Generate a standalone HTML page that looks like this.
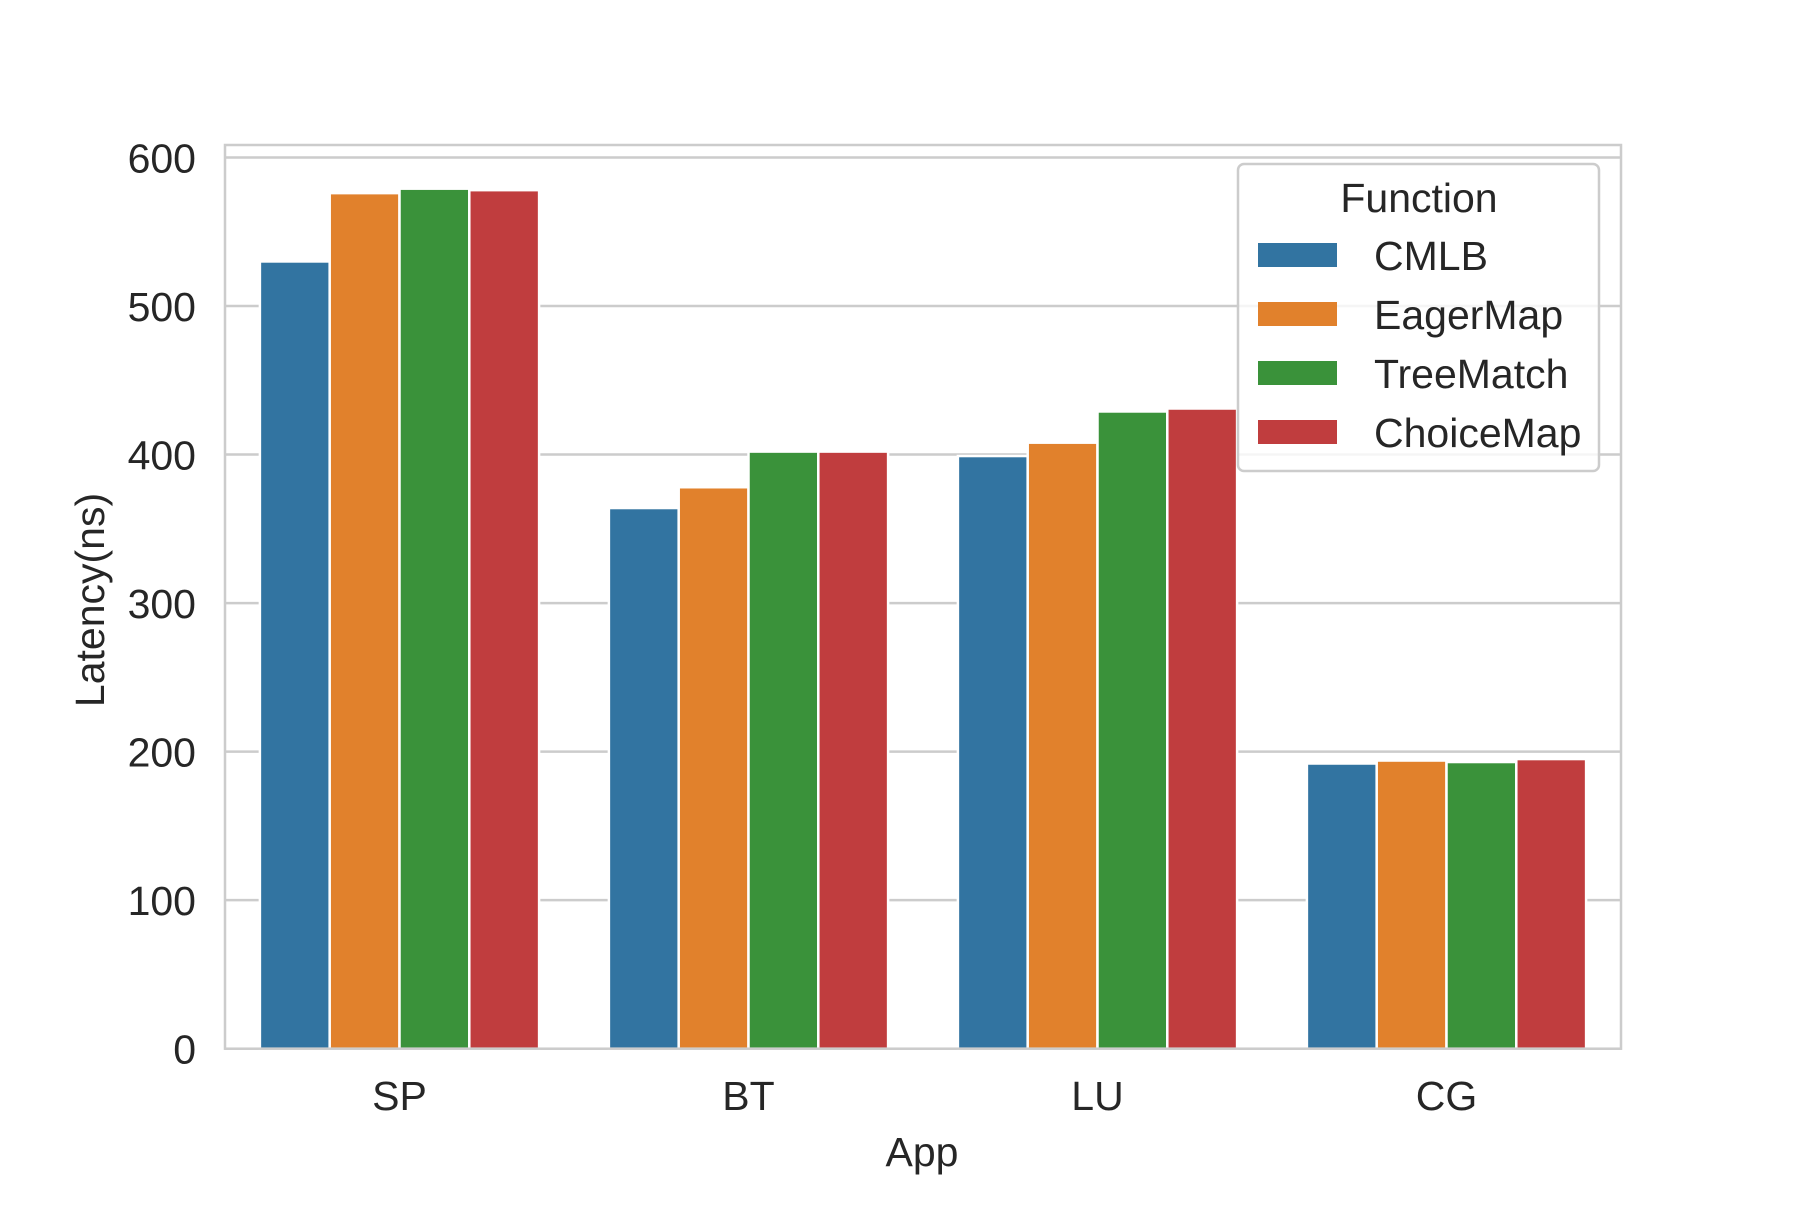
<!DOCTYPE html>
<html><head><meta charset="utf-8"><style>
html,body{margin:0;padding:0;background:#fff;}
svg text{font-family:"Liberation Sans",Arial,sans-serif;fill:#262626;}
</style></head><body>
<svg id="chart" width="1800" height="1200" viewBox="0 0 1800 1200" xmlns="http://www.w3.org/2000/svg">
<g id="grid"></g>
<g id="bars"></g>
<rect x="225" y="145" width="1396" height="903.7" fill="none" stroke="#cccccc" stroke-width="2.5"/>
<g id="yticks"></g>
<g id="xticks"></g>
<text x="922" y="1166" font-size="41" text-anchor="middle">App</text>
<text x="0" y="0" font-size="41" text-anchor="middle" transform="translate(104,600) rotate(-90)">Latency(ns)</text>
<g id="legend"></g>
</svg>
<script>
const categories = ["SP","BT","LU","CG"];
const seriesNames = ["CMLB","EagerMap","TreeMatch","ChoiceMap"];
const cmlb = [530,364,399,192];
const eagerMap = [576,378,408,194];
const treeMatch = [579,402,429,193];
const choiceMap = [578,402,431,195];
const yTicks = [0,100,200,300,400,500,600];
const series = [cmlb,eagerMap,treeMatch,choiceMap];
const colors = ["#3274a1","#e1812c","#3a923a","#c03d3e"];
const NS="http://www.w3.org/2000/svg";
const L=225,R=1621,T=145,B=1048.7,YMAX=608.4;
const y = v => B - v/YMAX*(B-T);
const step=(R-L)/categories.length;
const xc = i => L + step*(i+0.5);
const bw = step*0.8/series.length;
function mk(tag,attrs,parent){const e=document.createElementNS(NS,tag);for(const k in attrs)e.setAttribute(k,attrs[k]);parent.appendChild(e);return e;}
const grid=document.getElementById('grid'),yt=document.getElementById('yticks');
yTicks.forEach(t=>{
  const l=mk('line',{x1:L,x2:R,y1:y(t),y2:y(t),stroke:'#cccccc','stroke-width':2.5},grid);
  
  
  const tx=mk('text',{x:196,y:y(t)+15,'font-size':41,'text-anchor':'end'},yt);
  tx.textContent=t;
  
  
});
const bars=document.getElementById('bars'),xt=document.getElementById('xticks');
categories.forEach((c,i)=>{
  series.forEach((s,j)=>{
    const x0=xc(i)-step*0.4+j*bw;
    const r=mk('rect',{x:x0,y:y(s[i]),width:bw,height:B-y(s[i]),fill:colors[j],stroke:'#ffffff','stroke-width':2.5},bars);
    
    
  });
  const tx=mk('text',{x:xc(i),y:1110,'font-size':41,'text-anchor':'middle'},xt);
  tx.textContent=c;
  
  
});
const lg=document.getElementById('legend');
const box=mk('rect',{x:1238,y:164,width:361,height:307,rx:6,fill:'#ffffff','fill-opacity':0.8,stroke:'#cccccc','stroke-width':2.5},lg);


const lt=mk('text',{x:1419,y:212,'font-size':41,'text-anchor':'middle'},lg);
lt.textContent='Function';


seriesNames.forEach((n,j)=>{
  const cy=255+j*59;
  const g=mk('g',{},lg);
  
  
  mk('rect',{x:1258,y:cy-12,width:79,height:24,fill:colors[j]},g);
  const t=mk('text',{x:1374,y:cy+15,'font-size':41},g);
  t.textContent=n;
});
</script>
</body></html>
